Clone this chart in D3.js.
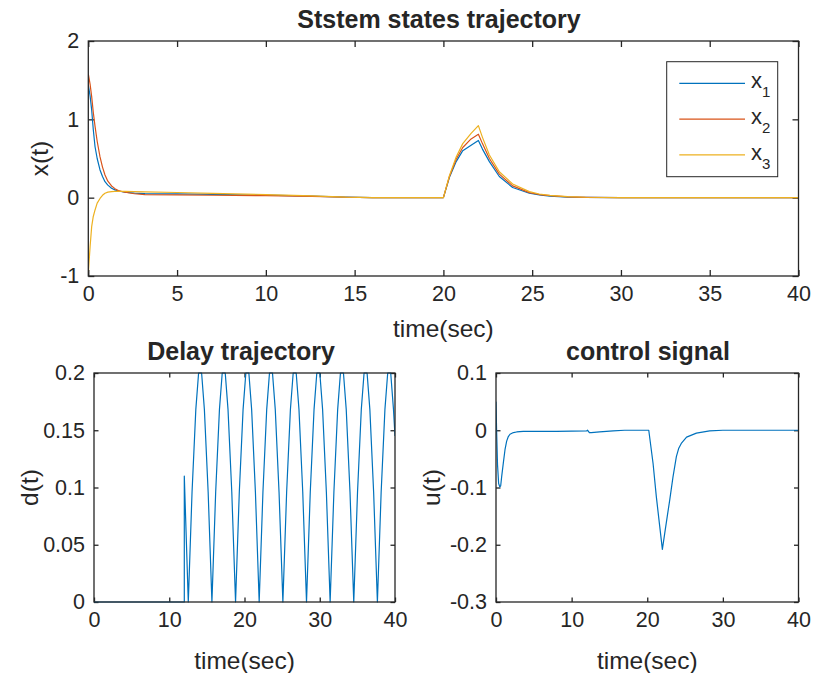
<!DOCTYPE html>
<html>
<head>
<meta charset="utf-8">
<script src="https://cdn.jsdelivr.net/npm/d3@7"></script>
<style>
  body { margin: 0; background: #fff; }
  svg text { font-family: "Liberation Sans", Arial, Helvetica, sans-serif; fill: #262626; }
</style>
</head>
<body>
<div id="fig"></div>
<script>
// ---- data ----
var tTop = [0, 0.1, 0.19, 0.28, 0.38, 0.5, 0.66, 0.8, 0.94, 1.1, 1.31, 1.5, 1.69, 2.06, 2.6, 3.19, 5, 7, 10, 12.6, 14.5, 16, 20,
  20.34, 20.72, 21.09, 21.56, 21.97, 22.2, 22.59, 23.15, 23.9, 24.84, 25.4, 26, 27, 28, 30, 32, 40]
var x1 = [1.44, 1.30, 1.12, 0.87, 0.65, 0.50, 0.354, 0.27, 0.204, 0.16, 0.12, 0.10, 0.085, 0.069, 0.058, 0.052, 0.048, 0.043, 0.032, 0.02, 0.006, 0.001, 0,
  0.26, 0.46, 0.60, 0.67, 0.73, 0.62, 0.46, 0.27, 0.13, 0.056, 0.035, 0.02, 0.008, 0.003, 0.001, 0, 0]
var x2 = [1.58, 1.45, 1.29, 1.09, 0.91, 0.72, 0.52, 0.39, 0.29, 0.21, 0.15, 0.115, 0.09, 0.069, 0.05, 0.04, 0.035, 0.031, 0.025, 0.017, 0.005, 0.001, 0,
  0.27, 0.49, 0.64, 0.75, 0.81, 0.69, 0.50, 0.30, 0.15, 0.065, 0.04, 0.025, 0.01, 0.004, 0.001, 0, 0]
var x3 = [-0.966, -0.63, -0.37, -0.24, -0.157, -0.07, -0.01, 0.03, 0.056, 0.07, 0.077, 0.08, 0.08, 0.08, 0.078, 0.075, 0.066, 0.056, 0.04, 0.022, 0.006, 0.001, 0,
  0.28, 0.52, 0.69, 0.82, 0.92, 0.77, 0.545, 0.33, 0.175, 0.077, 0.047, 0.03, 0.013, 0.005, 0.001, 0, 0]
var seriesNames = ["1", "2", "3"]
var colors = ["#0072BD", "#D95319", "#EDB120"]

var tDelay = [0, 12.0, 12.0, 12.53,
  13.03, 13.53, 13.90, 14.30, 14.67, 15.17, 15.67,
  16.17, 16.67, 17.04, 17.44, 17.81, 18.31, 18.81,
  19.31, 19.81, 20.18, 20.58, 20.95, 21.45, 21.95,
  22.45, 22.95, 23.32, 23.72, 24.09, 24.59, 25.10,
  25.60, 26.10, 26.47, 26.87, 27.24, 27.74, 28.24,
  28.74, 29.24, 29.61, 30.01, 30.38, 30.88, 31.38,
  31.88, 32.38, 32.75, 33.15, 33.52, 34.02, 34.52,
  35.02, 35.52, 35.89, 36.29, 36.66, 37.16, 37.66,
  38.16, 38.66, 39.03, 39.43, 39.80, 40]
var dVal = [0, 0, 0.11, 0,
  0.096, 0.168, 0.2, 0.2, 0.168, 0.096, 0,
  0.096, 0.168, 0.2, 0.2, 0.168, 0.096, 0,
  0.096, 0.168, 0.2, 0.2, 0.168, 0.096, 0,
  0.096, 0.168, 0.2, 0.2, 0.168, 0.096, 0,
  0.096, 0.168, 0.2, 0.2, 0.168, 0.096, 0,
  0.096, 0.168, 0.2, 0.2, 0.168, 0.096, 0,
  0.096, 0.168, 0.2, 0.2, 0.168, 0.096, 0,
  0.096, 0.168, 0.2, 0.2, 0.168, 0.096, 0,
  0.096, 0.168, 0.2, 0.2, 0.168, 0.145]

var tCtrl = [0, 0.08, 0.2, 0.35, 0.5, 0.62, 0.75, 0.97, 1.19, 1.41, 1.63, 1.85, 2.3, 2.73, 3.6, 8, 12.0, 12.1, 12.35, 12.6, 13.7, 15.5, 17,
  20.2, 20.77, 21.2, 21.65, 22.0, 22.31, 22.65, 22.97, 23.41, 23.85, 24.15, 24.5, 25.2, 26.5, 28.25, 30, 40]
var uVal = [0.05, 0.0, -0.06, -0.093, -0.099, -0.097, -0.081, -0.057, -0.034, -0.019, -0.011, -0.007, -0.004, -0.003, -0.002, -0.002, -0.001, 0.0, -0.004, -0.004, -0.003, -0.001, 0,
  0, -0.058, -0.116, -0.168, -0.208, -0.18, -0.15, -0.122, -0.081, -0.046, -0.032, -0.023, -0.012, -0.005, -0.001, 0, 0]

var topXTicks = [0, 5, 10, 15, 20, 25, 30, 35, 40]
var topYTicks = [-1, 0, 1, 2]
var botXTicks = [0, 10, 20, 30, 40]
var delayYTicks = [0, 0.05, 0.1, 0.15, 0.2]
var ctrlYTicks = [-0.3, -0.2, -0.1, 0, 0.1]

// ---- layout ----
var W = 813, H = 673
var axColor = "#262626"
var svg = d3.select("#fig").append("svg").attr("width", W).attr("height", H)

// matlab style labels: plain hyphen minus, no trailing zeros
function fmt(d) { return String(+d.toFixed(3)) }

function makeAxes(box, xDom, yDom, xTicks, yTicks, tickLen) {
  var g = svg.append("g")
  var x = d3.scaleLinear().domain(xDom).range([box.l, box.r])
  var y = d3.scaleLinear().domain(yDom).range([box.b, box.t])

  g.append("g").attr("transform", "translate(0," + box.b + ")")
    .call(d3.axisBottom(x).tickValues(xTicks).tickSizeInner(-tickLen).tickSizeOuter(0).tickPadding(10).tickFormat(fmt))
  g.append("g").attr("transform", "translate(0," + box.t + ")")
    .call(d3.axisTop(x).tickValues(xTicks).tickSizeInner(-tickLen).tickSizeOuter(0).tickFormat(""))
  g.append("g").attr("transform", "translate(" + box.l + ",0)")
    .call(d3.axisLeft(y).tickValues(yTicks).tickSizeInner(-tickLen).tickSizeOuter(0).tickPadding(9).tickFormat(fmt))
  g.append("g").attr("transform", "translate(" + box.r + ",0)")
    .call(d3.axisRight(y).tickValues(yTicks).tickSizeInner(-tickLen).tickSizeOuter(0).tickFormat(""))

  g.selectAll(".domain").remove()
  g.selectAll(".tick line").attr("stroke", axColor).attr("stroke-width", 1.3)
  g.selectAll(".tick text").attr("font-size", 21.5).attr("fill", axColor)
    .style("font-family", "'Liberation Sans', Arial, sans-serif")

  var clipId = "clip" + Math.round(box.l) + "_" + Math.round(box.t)
  svg.append("clipPath").attr("id", clipId).append("rect")
    .attr("x", box.l).attr("y", box.t - 1).attr("width", box.r - box.l).attr("height", box.b - box.t + 2)
  var plot = svg.append("g").attr("clip-path", "url(#" + clipId + ")")

  svg.append("rect")
    .attr("x", box.l).attr("y", box.t).attr("width", box.r - box.l).attr("height", box.b - box.t)
    .attr("fill", "none").attr("stroke", axColor).attr("stroke-width", 1.3)
  return {x: x, y: y, plot: plot}
}

function addLine(ax, ts, vs, color) {
  var pts = ts.map(function(t, i) { return [t, vs[i]] })
  ax.plot.append("path").datum(pts)
    .attr("fill", "none").attr("stroke", color).attr("stroke-width", 1.2)
    .attr("stroke-linejoin", "round")
    .attr("d", d3.line().x(function(d) { return ax.x(d[0]) }).y(function(d) { return ax.y(d[1]) }))
}

function addText(x, y, txt, size, weight, rotate) {
  var t = svg.append("text").attr("x", x).attr("y", y).attr("text-anchor", "middle")
    .attr("font-size", size).attr("font-weight", weight || "normal").text(txt)
  if (rotate) t.attr("transform", "rotate(-90," + x + "," + y + ")")
  return t
}

// top: system states
var topBox = {l: 88.3, r: 798.5, t: 41, b: 276}
var axTop = makeAxes(topBox, [0, 40], [-1, 2], topXTicks, topYTicks, 6)
addLine(axTop, tTop, x1, colors[0])
addLine(axTop, tTop, x2, colors[1])
addLine(axTop, tTop, x3, colors[2])
addText(439, 28, "Ststem states trajectory", 25, "bold")
addText((topBox.l + topBox.r) / 2, 337, "time(sec)", 24.5)
addText(48, (topBox.t + topBox.b) / 2, "x(t)", 24.5, "normal", true)

// legend
var leg = svg.append("g")
leg.append("rect").attr("x", 666.7).attr("y", 61.7).attr("width", 111).attr("height", 115)
  .attr("fill", "#fff").attr("stroke", axColor).attr("stroke-width", 1)
seriesNames.forEach(function(n, i) {
  var yy = 83.3 + i * 35.8
  leg.append("line").attr("x1", 679.3).attr("x2", 745).attr("y1", yy).attr("y2", yy)
    .attr("stroke", colors[i]).attr("stroke-width", 1.2)
  var tx = leg.append("text").attr("x", 751).attr("y", yy + 5).attr("font-size", 22).attr("fill", axColor)
  tx.append("tspan").text("x")
  tx.append("tspan").attr("dy", 9).attr("font-size", 15).text(n)
})

// bottom-left: delay
var delayBox = {l: 94, r: 395, t: 373, b: 602}
var axDelay = makeAxes(delayBox, [0, 40], [0, 0.2], botXTicks, delayYTicks, 4.5)
addLine(axDelay, tDelay, dVal, colors[0])
addText(241, 360, "Delay trajectory", 25, "bold")
addText((delayBox.l + delayBox.r) / 2, 669, "time(sec)", 24.5)
addText(38, (delayBox.t + delayBox.b) / 2, "d(t)", 24.5, "normal", true)

// bottom-right: control
var ctrlBox = {l: 496, r: 798.5, t: 373, b: 602}
var axCtrl = makeAxes(ctrlBox, [0, 40], [-0.3, 0.1], botXTicks, ctrlYTicks, 4.5)
addLine(axCtrl, tCtrl, uVal, colors[0])
addText(648, 360, "control signal", 25, "bold")
addText((ctrlBox.l + ctrlBox.r) / 2, 669, "time(sec)", 24.5)
addText(440, (ctrlBox.t + ctrlBox.b) / 2, "u(t)", 24.5, "normal", true)
</script>
</body>
</html>
